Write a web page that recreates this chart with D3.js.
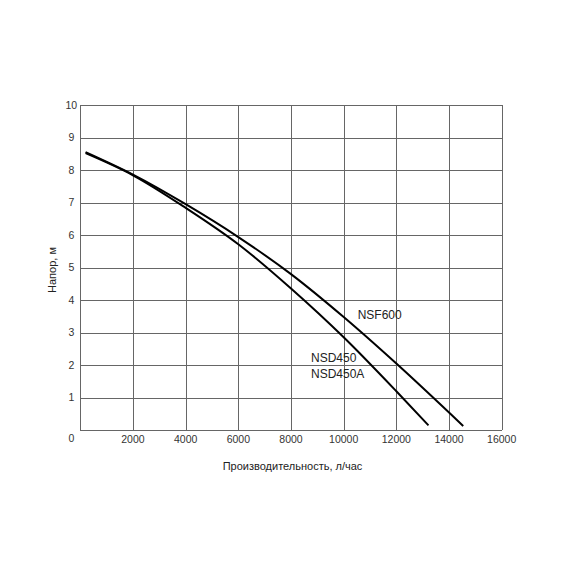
<!DOCTYPE html>
<html>
  <head>
    <meta charset="utf-8">
    <title>Напор / Производительность</title>
    <script src="https://cdn.jsdelivr.net/npm/d3@7"></script>
    <style>

body {
  margin: 0;
  background: #fff;
  font-family: "Liberation Sans", Arial, sans-serif;
}

.grid line {
  stroke: #666;
  stroke-width: 1px;
  shape-rendering: crispEdges;
}

.tick-label {
  font-size: 10.5px;
  fill: #333;
}

.title {
  font-size: 11px;
  fill: #222;
}

.curve {
  fill: none;
  stroke: #000;
  stroke-width: 2px;
}

.name {
  font-size: 12px;
  fill: #222;
}

    </style>
  </head>
  <body>
    <script>

// flow, l/h
var xTicks = [2000, 4000, 6000, 8000, 10000, 12000, 14000, 16000];
var yTicks = [1, 2, 3, 4, 5, 6, 7, 8, 9, 10];

var nsf600Flow = [200, 2000, 4000, 6000, 8000, 10000, 12000, 14540];
var nsf600Head = [8.55, 7.86, 6.95, 5.94, 4.8, 3.48, 2.05, 0.13];

var nsd450Flow = [200, 2000, 4000, 6000, 8000, 10000, 12000, 13220];
var nsd450Head = [8.52, 7.84, 6.84, 5.72, 4.36, 2.86, 1.2, 0.15];

var labels = [
  {text: "NSF600", x: 10530, y: 3.55},
  {text: "NSD450", x: 8760, y: 2.24},
  {text: "NSD450A", x: 8760, y: 1.745}
];

var width = 570,
    height = 570,
    plotLeft = 80.3,
    plotRight = 501.7,
    plotTop = 105,
    plotBottom = 430.3;

var x = d3.scaleLinear().domain([0, 16000]).range([plotLeft, plotRight]),
    y = d3.scaleLinear().domain([0, 10]).range([plotBottom, plotTop]);

var svg = d3.select("body")
  .append("svg")
    .attr("width", width)
    .attr("height", height);

var grid = svg.append("g").attr("class", "grid");

grid.selectAll("line.v")
    .data([0].concat(xTicks))
  .enter().append("line")
    .attr("class", "v")
    .attr("x1", function(d) { return Math.round(x(d)) + 0.5; })
    .attr("x2", function(d) { return Math.round(x(d)) + 0.5; })
    .attr("y1", y(10))
    .attr("y2", y(0));

grid.selectAll("line.h")
    .data([0].concat(yTicks))
  .enter().append("line")
    .attr("class", "h")
    .attr("y1", function(d) { return Math.round(y(d)) + 0.5; })
    .attr("y2", function(d) { return Math.round(y(d)) + 0.5; })
    .attr("x1", x(0))
    .attr("x2", x(16000));

svg.selectAll("text.xt")
    .data(xTicks)
  .enter().append("text")
    .attr("class", "tick-label xt")
    .attr("x", x)
    .attr("y", plotBottom + 9)
    .attr("dy", ".35em")
    .attr("text-anchor", "middle")
    .text(function(d) { return d; });

svg.selectAll("text.yt")
    .data(yTicks)
  .enter().append("text")
    .attr("class", "tick-label yt")
    .attr("x", plotLeft - 9)
    .attr("y", y)
    .attr("dy", ".35em")
    .attr("text-anchor", "middle")
    .text(function(d) { return d; });

// the zero sits in the corner, on the row of the x labels
svg.append("text")
    .attr("class", "tick-label")
    .attr("x", plotLeft - 9)
    .attr("y", plotBottom + 8)
    .attr("dy", ".35em")
    .attr("text-anchor", "middle")
    .text("0");

svg.append("text")
    .attr("class", "title")
    .attr("x", 292.5)
    .attr("y", 466)
    .attr("dy", ".35em")
    .attr("text-anchor", "middle")
    .text("Производительность, л/час");

svg.append("text")
    .attr("class", "title")
    .attr("transform", "translate(52,270) rotate(-90)")
    .attr("dy", ".35em")
    .attr("text-anchor", "middle")
    .text("Напор, м");

var line = d3.line()
    .x(function(d) { return x(d[0]); })
    .y(function(d) { return y(d[1]); })
    .curve(d3.curveMonotoneX);

svg.append("path")
    .attr("class", "curve")
    .attr("d", line(d3.zip(nsd450Flow, nsd450Head)));

svg.append("path")
    .attr("class", "curve")
    .attr("d", line(d3.zip(nsf600Flow, nsf600Head)));

svg.selectAll("text.name")
    .data(labels)
  .enter().append("text")
    .attr("class", "name")
    .attr("x", function(d) { return x(d.x); })
    .attr("y", function(d) { return y(d.y); })
    .attr("dy", ".35em")
    .text(function(d) { return d.text; });

    </script>
  </body>
</html>
